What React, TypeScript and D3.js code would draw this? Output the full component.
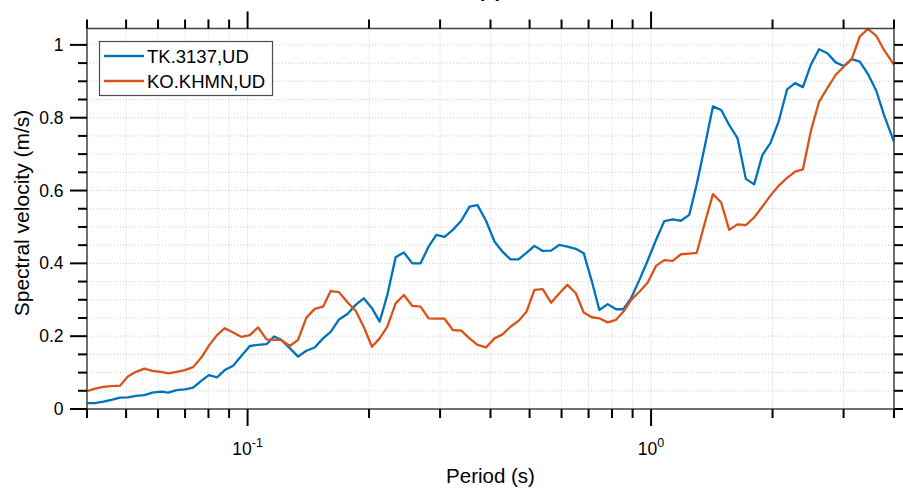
import React from "react";
import * as d3 from "d3";

// Periods (s) shared by both response spectra
const periods: number[] = [
  0.04, 0.0419, 0.0439, 0.046, 0.0483, 0.0505, 0.0529, 0.0555, 0.0581, 0.061,
  0.0636, 0.0667, 0.0699, 0.0733, 0.0769, 0.0802, 0.084, 0.0878, 0.0921, 0.0966,
  0.1013, 0.1062, 0.1114, 0.1163, 0.1209, 0.1272, 0.1334, 0.1399, 0.1467, 0.1538,
  0.1607, 0.1685, 0.1768, 0.1853, 0.194, 0.2034, 0.2125, 0.222, 0.2328, 0.244,
  0.256, 0.2684, 0.281, 0.2936, 0.3078, 0.3227, 0.3385, 0.3549, 0.3714, 0.3899,
  0.4092, 0.4283, 0.4483, 0.4692, 0.4911, 0.514, 0.5389, 0.5653, 0.5926, 0.6202,
  0.651, 0.6808, 0.7134, 0.7445, 0.7805, 0.8188, 0.8536, 0.8919, 0.9352, 0.9804,
  1.0285, 1.0783, 1.1317, 1.1859, 1.2433, 1.2977, 1.3583, 1.4232, 1.4922, 1.5617,
  1.6373, 1.7175, 1.8007, 1.8879, 1.976, 2.0705, 2.1734, 2.2748, 2.3782, 2.492,
  2.6083, 2.7345, 2.8685, 3.0023, 3.1424, 3.2909, 3.4482, 3.6152, 3.7773, 4.0,
];

// Spectral velocity (m/s), station TK.3137 vertical component
const tk3137: number[] = [
  0.016, 0.016, 0.02, 0.025, 0.031, 0.032, 0.036, 0.038, 0.045, 0.048,
  0.045, 0.052, 0.054, 0.059, 0.078, 0.093, 0.087, 0.107, 0.119, 0.146,
  0.173, 0.176, 0.178, 0.199, 0.191, 0.167, 0.144, 0.16, 0.169, 0.194,
  0.212, 0.246, 0.261, 0.286, 0.304, 0.277, 0.24, 0.313, 0.417, 0.43,
  0.4, 0.4, 0.446, 0.478, 0.473, 0.492, 0.517, 0.556, 0.56, 0.517,
  0.46, 0.432, 0.411, 0.411, 0.429, 0.448, 0.434, 0.435, 0.451, 0.446,
  0.44, 0.428, 0.35, 0.272, 0.288, 0.274, 0.274, 0.304, 0.354, 0.407,
  0.464, 0.516, 0.521, 0.517, 0.533, 0.617, 0.721, 0.831, 0.821, 0.78,
  0.744, 0.632, 0.617, 0.698, 0.73, 0.789, 0.878, 0.895, 0.884, 0.947,
  0.988, 0.977, 0.952, 0.942, 0.961, 0.954, 0.92, 0.874, 0.808, 0.734,
];

// Spectral velocity (m/s), station KO.KHMN vertical component
const khmn: number[] = [
  0.049, 0.056, 0.061, 0.063, 0.064, 0.089, 0.102, 0.111, 0.105, 0.102,
  0.098, 0.102, 0.107, 0.115, 0.142, 0.174, 0.203, 0.222, 0.21, 0.198,
  0.203, 0.224, 0.191, 0.19, 0.19, 0.173, 0.19, 0.251, 0.275, 0.281,
  0.324, 0.321, 0.293, 0.27, 0.226, 0.171, 0.194, 0.226, 0.29, 0.313,
  0.283, 0.281, 0.249, 0.248, 0.248, 0.217, 0.215, 0.194, 0.176, 0.169,
  0.194, 0.205, 0.226, 0.242, 0.267, 0.327, 0.329, 0.292, 0.318, 0.341,
  0.318, 0.265, 0.252, 0.249, 0.238, 0.245, 0.267, 0.299, 0.322, 0.347,
  0.393, 0.409, 0.407, 0.425, 0.427, 0.429, 0.51, 0.59, 0.567, 0.492,
  0.507, 0.505, 0.526, 0.556, 0.586, 0.613, 0.635, 0.652, 0.658, 0.766,
  0.844, 0.881, 0.918, 0.94, 0.961, 1.023, 1.044, 1.025, 0.986, 0.945,
];

const seriesNames: string[] = ["TK.3137,UD", "KO.KHMN,UD"];
const seriesColors: string[] = ["#0072BD", "#D95319"];

const xMajorTicks: number[] = [0.1, 1];
const xMinorTicks: number[] = [
  0.04, 0.05, 0.06, 0.07, 0.08, 0.09, 0.2, 0.3, 0.4, 0.5, 0.6, 0.7, 0.8, 0.9, 2, 3, 4,
];
const xMajorExponents: string[] = ["-1", "0"];
const yMajorTicks: number[] = [0, 0.2, 0.4, 0.6, 0.8, 1];
const yMinorTicks: number[] = [
  0.05, 0.1, 0.15, 0.25, 0.3, 0.35, 0.45, 0.5, 0.55, 0.65, 0.7, 0.75, 0.85, 0.9, 0.95,
];
const yMax = 1.045;

const W = 903;
const H = 491;
const left = 87;
const right = 894;
const top = 28.5;
const bottom = 409;

const FONT = "'Liberation Sans', Arial, Helvetica, sans-serif";

export default function App() {
  const x = d3.scaleLog().domain([0.04, 4]).range([left, right]);
  const y = d3.scaleLinear().domain([0, yMax]).range([bottom, top]);

  const line = d3
    .line<number>()
    .x((_, i) => x(periods[i]))
    .y((v) => y(v));

  const series = [tk3137, khmn];
  const gridX = [...xMinorTicks, ...xMajorTicks].filter((t) => t > 0.04 && t < 4);
  const gridY = [...yMinorTicks, ...yMajorTicks].filter((t) => t > 0 && t < yMax);

  const tickColor = "#000";
  const gridColor = "#cccccc";

  return (
    <svg
      width={W}
      height={H}
      viewBox={`0 0 ${W} ${H}`}
      style={{ position: "absolute", left: 0, top: 0, background: "#fff", overflow: "hidden" }}
      fontFamily={FONT}
    >
      <rect x={0} y={0} width={W} height={H} fill="#fff" />
      <defs>
        <clipPath id="plotArea">
          <rect x={left} y={top - 2} width={right - left} height={bottom - top + 2} />
        </clipPath>
      </defs>

      {/* title, sitting above the top edge of the figure */}
      <text x={490} y={-3} textAnchor="middle" fontSize={20} fontWeight="bold" fill="#000">
        (a)
      </text>

      {/* dotted grid */}
      <g stroke={gridColor} strokeWidth={1} strokeDasharray="1 2">
        {gridX.map((t) => (
          <line key={`gx${t}`} x1={x(t)} x2={x(t)} y1={top} y2={bottom} />
        ))}
        {gridY.map((t) => (
          <line key={`gy${t}`} x1={left} x2={right} y1={y(t)} y2={y(t)} />
        ))}
      </g>

      {/* spectra */}
      <g clipPath="url(#plotArea)">
        {series.map((s, k) => (
          <path
            key={seriesNames[k]}
            d={line(s) || ""}
            fill="none"
            stroke={seriesColors[k]}
            strokeWidth={2.3}
            strokeLinejoin="round"
          />
        ))}
      </g>

      {/* axes box */}
      <rect
        x={left}
        y={top}
        width={right - left}
        height={bottom - top}
        fill="none"
        stroke="#404040"
        strokeWidth={1.5}
      />

      {/* ticks on all four sides, pointing outward */}
      <g stroke={tickColor} strokeWidth={2}>
        {xMinorTicks.map((t) => (
          <g key={`xm${t}`}>
            <line x1={x(t)} x2={x(t)} y1={bottom} y2={bottom + 9} />
            <line x1={x(t)} x2={x(t)} y1={top} y2={top - 9} />
          </g>
        ))}
        {xMajorTicks.map((t) => (
          <g key={`xM${t}`}>
            <line x1={x(t)} x2={x(t)} y1={bottom} y2={bottom + 17} />
            <line x1={x(t)} x2={x(t)} y1={top} y2={top - 17} />
          </g>
        ))}
        {yMinorTicks.map((t) => (
          <g key={`ym${t}`}>
            <line x1={left} x2={left - 9} y1={y(t)} y2={y(t)} />
            <line x1={right} x2={right + 9} y1={y(t)} y2={y(t)} />
          </g>
        ))}
        {yMajorTicks.map((t) => (
          <g key={`yM${t}`}>
            <line x1={left} x2={left - 17} y1={y(t)} y2={y(t)} />
            <line x1={right} x2={right + 17} y1={y(t)} y2={y(t)} />
          </g>
        ))}
      </g>

      {/* x tick labels */}
      <g fill="#000" fontSize={17.5} textAnchor="middle">
        {xMajorTicks.map((t, i) => (
          <text key={`xl${t}`} x={x(t)} y={455}>
            <tspan>10</tspan>
            <tspan fontSize={12.5} dy={-8}>
              {xMajorExponents[i]}
            </tspan>
          </text>
        ))}
      </g>

      {/* y tick labels */}
      <g fill="#000" fontSize={17.5} textAnchor="end">
        {yMajorTicks.map((t) => (
          <text key={`yl${t}`} x={63.5} y={y(t)} dy="0.35em">
            {d3.format("~g")(t)}
          </text>
        ))}
      </g>

      {/* axis labels */}
      <text x={490.5} y={483} textAnchor="middle" fontSize={20.5} fill="#000">
        Period (s)
      </text>
      <text
        transform={`translate(28.5,213) rotate(-90)`}
        textAnchor="middle"
        fontSize={21}
        fill="#000"
      >
        Spectral velocity (m/s)
      </text>

      {/* legend */}
      <g>
        <rect x={99.5} y={41.5} width={173} height={54} fill="#fff" stroke="#4d4d4d" strokeWidth={1.2} />
        {seriesNames.map((name, k) => (
          <g key={name}>
            <line
              x1={104}
              x2={144}
              y1={56 + k * 25}
              y2={56 + k * 25}
              stroke={seriesColors[k]}
              strokeWidth={2.3}
            />
            <text x={147} y={56 + k * 25} dy="0.36em" fontSize={18.5} fill="#000">
              {name}
            </text>
          </g>
        ))}
      </g>
    </svg>
  );
}
